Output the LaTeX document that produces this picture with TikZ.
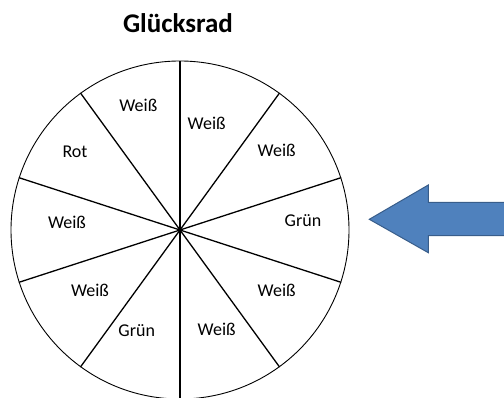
\documentclass[tikz,border=0pt]{standalone}
\usepackage{fontspec}
\setmainfont{Carlito}
\usetikzlibrary{calc}
\definecolor{arrowfill}{HTML}{4F81BD}
\definecolor{arrowline}{HTML}{385D8A}
\begin{document}
\begin{tikzpicture}[x=1pt,y=1pt,
  lbl/.style={font=\fontsize{18}{21}\selectfont, text=black},
  divider/.style={draw=black, line width=1.3pt},
  rim/.style={draw=black, line width=0.9pt}]
\useasboundingbox (0,0) rectangle (504,398);
\coordinate (c) at (180,168);
\node[circle, rim, minimum size=338pt, inner sep=0pt] (wheel) at (c) {};
\foreach \a in {90,54,18,-18,-54,-90,-126,-162,162,126}
  \draw[divider] (c) -- (wheel.\a);
\fill (c) circle (2pt);
\node[font=\bfseries\fontsize{27}{30}\selectfont] (title) at (178,375) {Glücksrad};
\node[lbl] (s1) at ($(c)+(26.7,106.7)$) {Weiß};
\node[lbl] (s2) at ($(c)+(96.7,80)$) {Weiß};
\node[lbl] (s3) at ($(c)+(123,9)$) {Grün};
\node[lbl] (s4) at ($(c)+(96.7,-60)$) {Weiß};
\node[lbl] (s5) at ($(c)+(36.7,-99)$) {Weiß};
\node[lbl] (s6) at ($(c)+(-43.3,-101)$) {Grün};
\node[lbl] (s7) at ($(c)+(-90,-60.7)$) {Weiß};
\node[lbl] (s8) at ($(c)+(-113,8)$) {Weiß};
\node[lbl] (s9) at ($(c)+(-105,78)$) {Rot};
\node[lbl] (s10) at ($(c)+(-41.7,125)$) {Weiß};
\draw[fill=arrowfill, draw=arrowline, line width=1pt, line join=miter]
  (369.3,178.7) -- (428.3,213) -- (428.3,195.7) -- (506,195.7)
  -- (506,162.3) -- (428.3,162.3) -- (428.3,145.3) -- cycle;
\end{tikzpicture}
\end{document}
